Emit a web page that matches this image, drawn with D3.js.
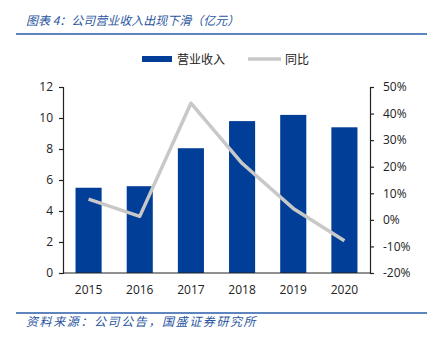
<!DOCTYPE html>
<html><head><meta charset="utf-8">
<script src="https://cdn.jsdelivr.net/npm/d3@7"></script>
<style>body{margin:0;background:#fff}</style>
</head><body>
<svg id="c" width="431" height="344"></svg>
<script>
const years = ["2015","2016","2017","2018","2019","2020"];
const revenue = [5.5, 5.6, 8.05, 9.8, 10.2, 9.4];
const yoy = [7.8, 1.3, 43.9, 21.3, 4.3, -7.9];
const leftTicks = [0,2,4,6,8,10,12];
const rightTicks = [-20,-10,0,10,20,30,40,50];

const svg = d3.select("#c");
const font = "'Open Sans','Liberation Sans',Arial,'Noto Sans CJK SC',sans-serif";
const cjk = "'Noto Sans CJK SC',sans-serif";
const blue = "#003e98";
const L = 63, R = 370, T = 87, B = 273;

const x = d3.scaleBand().domain(years).range([L, R]).paddingInner(0.49).paddingOuter(0.245);
const yL = d3.scaleLinear().domain([0, 12]).range([B, T]);
const yR = d3.scaleLinear().domain([-20, 50]).range([B, T]);

// title
svg.append("text").attr("x", 26).attr("y", 25).attr("fill", "#2a55a0")
  .attr("font-family", cjk).attr("font-size", 12).attr("font-style", "italic")
  .text("图表 4：公司营业收入出现下滑（亿元）");
svg.append("line").attr("x1", 16).attr("x2", 427).attr("y1", 34).attr("y2", 34)
  .attr("stroke", "#2a5ca8").attr("stroke-width", 1.5);

// legend
svg.append("rect").attr("x", 142).attr("y", 56).attr("width", 30).attr("height", 6).attr("fill", blue);
svg.append("text").attr("x", 177).attr("y", 64).attr("font-family", cjk).attr("font-size", 12).attr("fill", "#222").text("营业收入");
svg.append("line").attr("x1", 248).attr("x2", 281).attr("y1", 59).attr("y2", 59).attr("stroke", "#c8c8c8").attr("stroke-width", 3.5);
svg.append("text").attr("x", 285).attr("y", 64).attr("font-family", cjk).attr("font-size", 12).attr("fill", "#222").text("同比");

// bars
svg.selectAll("rect.bar").data(years).enter().append("rect").attr("class", "bar")
  .attr("x", d => x(d)).attr("width", x.bandwidth())
  .attr("y", (d, i) => yL(revenue[i])).attr("height", (d, i) => B - yL(revenue[i]))
  .attr("fill", blue);

// axes
const gl = svg.append("g").attr("transform", `translate(${L},0)`)
  .call(d3.axisLeft(yL).tickValues(leftTicks).tickSize(4).tickPadding(6));
const gr = svg.append("g").attr("transform", `translate(${R},0)`)
  .call(d3.axisRight(yR).tickValues(rightTicks).tickSize(4).tickPadding(9).tickFormat(d => d + "%"));
const gx = svg.append("g").attr("transform", `translate(0,${B})`)
  .call(d3.axisBottom(x).tickSize(0).tickPadding(12));
[gl, gr, gx].forEach(g => {
  g.selectAll("text").attr("font-family", font).attr("font-size", 12).attr("fill", "#222");
  g.selectAll("path,line").attr("stroke", "#222").attr("stroke-width", 1.2);
});
gx.select("path").attr("d", `M${L},0H${R}`);

// line
const line = d3.line().x((d, i) => x(years[i]) + x.bandwidth() / 2).y(d => yR(d));
svg.append("path").datum(yoy).attr("d", line).attr("fill", "none")
  .attr("stroke", "#c8c8c8").attr("stroke-width", 3.5).attr("stroke-linejoin", "round");

// source
svg.append("line").attr("x1", 16).attr("x2", 427).attr("y1", 313).attr("y2", 313)
  .attr("stroke", "#2a5ca8").attr("stroke-width", 1.5);
svg.append("text").attr("x", 26).attr("y", 326).attr("fill", "#2a55a0")
  .attr("font-family", cjk).attr("font-size", 12).attr("font-style", "italic")
  .attr("letter-spacing", 1.6)
  .text("资料来源：公司公告，国盛证券研究所");
</script>
</body></html>
